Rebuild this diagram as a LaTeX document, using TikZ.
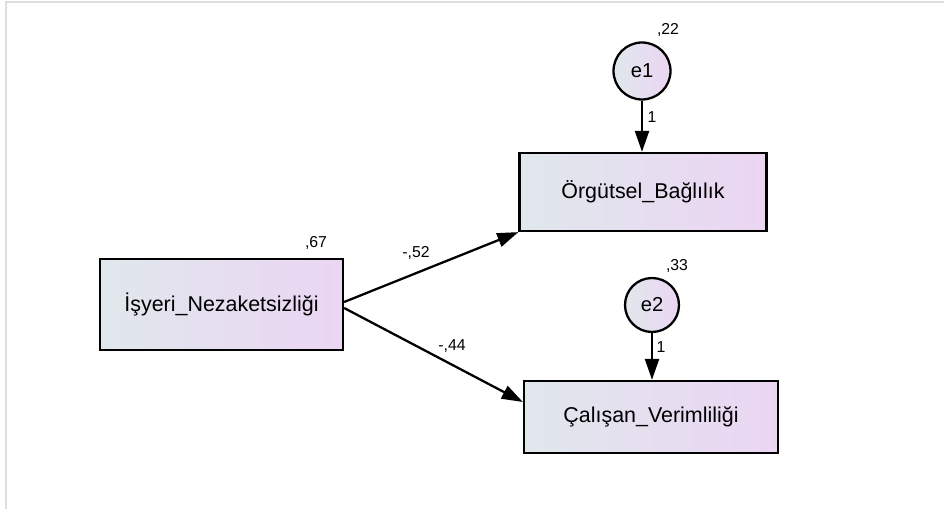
\documentclass[tikz,border=0pt]{standalone}
\usepackage{fontspec}
\setmainfont{Liberation Sans}
\usetikzlibrary{arrows.meta}

\definecolor{boxleft}{RGB}{224,232,236}
\definecolor{boxright}{RGB}{235,213,243}
\definecolor{framegray}{RGB}{222,222,222}

\tikzset{
  varbox/.style={draw=black, line width=1.3pt, left color=boxleft, right color=boxright,
    font=\fontsize{12.2}{14}\selectfont, inner sep=0pt},
  errcircle/.style={circle, draw=black, line width=1.3pt, left color=boxleft, right color=boxright,
    minimum size=1.14cm, inner sep=0pt, font=\fontsize{11.5}{13}\selectfont},
  path/.style={line width=1.3pt, -{Triangle[length=12pt,width=8pt]}},
  est/.style={font=\fontsize{9}{11}\selectfont, inner sep=0pt}
}

\begin{document}
\begin{tikzpicture}[x=0.02cm,y=-0.02cm]
\useasboundingbox (0,0) rectangle (944,509);

% Frame
\draw[framegray, line width=1.2pt] (6,509) -- (6,2) -- (944,2);

% Observed variables
\node[varbox, minimum width=4.86cm, minimum height=1.82cm] (isyeri) at (221.5,304.5) {İşyeri\_Nezaketsizliği};
\node[varbox, minimum width=4.94cm, minimum height=1.56cm] (orgutsel) at (643,192) {Örgütsel\_Bağlılık};
\node[varbox, minimum width=5.08cm, minimum height=1.44cm] (calisan) at (651,417) {Çalışan\_Verimliliği};

% Error terms
\node[errcircle] (e1) at (642,71) {e1};
\node[errcircle, minimum size=1.08cm] (e2) at (652,305) {e2};

% Paths
\draw[path] ([yshift=0.05cm]isyeri.east) -- (orgutsel.south west);
\draw[path] ([yshift=-0.07cm]isyeri.east) -- ([yshift=0.3cm]calisan.west);
\draw[path] (e1) -- (e1 |- orgutsel.north);
\draw[path] (e2) -- (e2 |- calisan.north);

% Estimates
\node[est] (w1) at (416,253) {-,52};
\node[est] (w2) at (452,346) {-,44};
\node[est] (v0) at (316,243) {,67};
\node[est] (v1) at (668,30) {,22};
\node[est] (v2) at (677,266) {,33};
\node[est] (f1) at (652,117) {1};
\node[est] (f2) at (661,347) {1};
\end{tikzpicture}
\end{document}
